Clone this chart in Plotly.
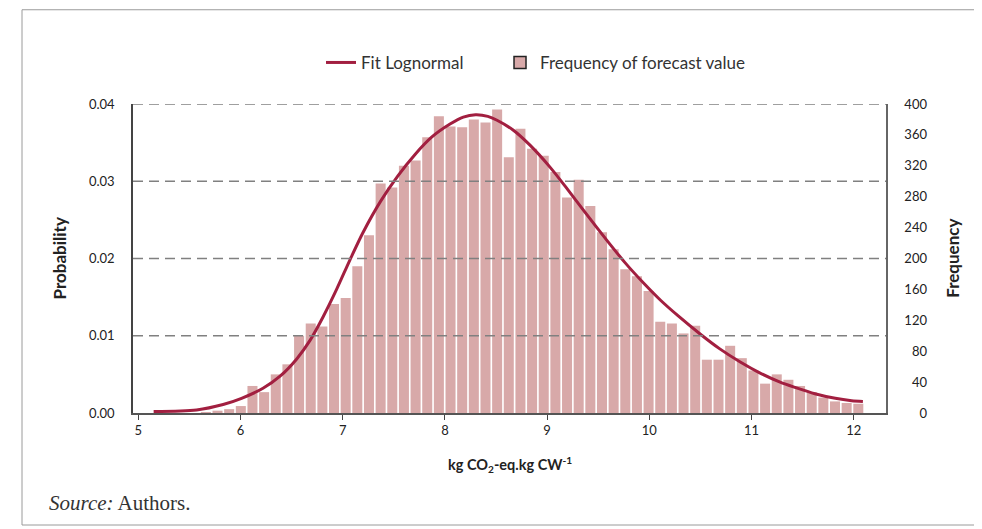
import plotly.graph_objects as go

# ---- data ----
bin_centers = [5.661, 5.775, 5.889, 6.003, 6.117, 6.231, 6.345, 6.459, 6.573, 6.687,
               6.801, 6.915, 7.029, 7.143, 7.257, 7.371, 7.485, 7.599, 7.713, 7.827,
               7.941, 8.055, 8.169, 8.283, 8.397, 8.511, 8.625, 8.739, 8.853, 8.967,
               9.081, 9.195, 9.309, 9.423, 9.537, 9.651, 9.765, 9.879, 9.993, 10.107,
               10.221, 10.335, 10.449, 10.563, 10.677, 10.791, 10.905, 11.019, 11.133, 11.247,
               11.361, 11.475, 11.589, 11.703, 11.817, 11.931, 12.045]
frequency = [1, 3, 5, 9, 35, 27, 50, 63, 100, 116,
             112, 141, 149, 190, 230, 297, 292, 320, 327, 357,
             384, 371, 370, 380, 376, 393, 331, 368, 342, 333,
             312, 279, 302, 268, 234, 212, 186, 177, 158, 118,
             116, 103, 113, 69, 69, 87, 71, 55, 38, 50,
             43, 35, 27, 20, 15, 13, 12]

fit_x = [5.15, 5.57, 5.83, 6.01, 6.22, 6.39, 6.55, 6.68, 6.81, 6.94,
         7.07, 7.20, 7.37, 7.54, 7.71, 7.87, 8.05, 8.18, 8.30, 8.42,
         8.51, 8.67, 8.83, 9.03, 9.18, 9.37, 9.57, 9.76, 9.96, 10.11,
         10.28, 10.50, 10.69, 10.89, 11.08, 11.28, 11.43, 11.62, 11.82, 11.98, 12.09]
fit_prob = [0.0002, 0.0004, 0.0011, 0.0019, 0.0032, 0.0048, 0.0070, 0.0094, 0.0125, 0.0160,
            0.0198, 0.0234, 0.0274, 0.0307, 0.0335, 0.0357, 0.0374, 0.0383, 0.0386, 0.0384,
            0.0379, 0.0366, 0.0347, 0.0318, 0.0293, 0.0260, 0.0226, 0.0195, 0.0166, 0.0146,
            0.0126, 0.0102, 0.0083, 0.0066, 0.0052, 0.0040, 0.0033, 0.0025, 0.0019, 0.0016, 0.0015]

x_ticks = [5, 6, 7, 8, 9, 10, 11, 12]
prob_ticks = [0.00, 0.01, 0.02, 0.03, 0.04]
freq_ticks = [0, 40, 80, 120, 160, 200, 240, 280, 320, 360, 400]

BAR = "#D8A9A9"
LINE = "#A21F40"
FONT = "Lato"

fig = go.Figure()

fig.add_trace(go.Bar(
    x=bin_centers, y=frequency, width=0.098,
    marker=dict(color=BAR, line=dict(width=0)),
    yaxis="y", showlegend=False, name="Frequency of forecast value",
))
fig.add_trace(go.Scatter(
    x=fit_x, y=fit_prob, mode="lines", line=dict(color=LINE, width=3, shape="spline", smoothing=0.8),
    yaxis="y2", name="Fit Lognormal", legend="legend",
))
fig.add_trace(go.Bar(
    x=[None], y=[None], yaxis="y",
    marker=dict(color=BAR, line=dict(color="#222222", width=1.5)),
    name="Frequency of forecast value", legend="legend2",
))

shapes = []
for v in prob_ticks[1:]:
    shapes.append(dict(type="line", xref="paper", x0=0, x1=1, yref="y2", y0=v, y1=v,
                       line=dict(color="#808080", width=1.6, dash="10px,6px"), layer="above"))
# outer frame
shapes.append(dict(type="rect", xref="paper", yref="paper", x0=-0.1474, x1=1.16,
                   y0=-0.3625, y1=1.305, line=dict(color="#9a9a9a", width=1), layer="below"))

legend_common = dict(orientation="h", y=1.133, yanchor="middle", xanchor="left",
                     font=dict(size=17, color="#333333"), bgcolor="rgba(0,0,0,0)", itemwidth=30)

fig.update_layout(
    width=974, height=521, autosize=False,
    margin=dict(l=125, r=96, t=96, b=116),
    paper_bgcolor="white", plot_bgcolor="white",
    font=dict(family=FONT, size=13, color="#333333"),
    barmode="overlay",
    shapes=shapes,
    legend=dict(x=0.2497, **legend_common),
    legend2=dict(x=0.4874, **legend_common),
    xaxis=dict(range=[4.948, 12.316], tickvals=x_ticks, ticks="outside", ticklen=5,
               tickcolor="#444444", showline=True, linecolor="#555555", linewidth=1.5,
               showgrid=False, zeroline=False, tickfont=dict(size=13, color="#222222")),
    yaxis=dict(range=[0, 400], side="right", tickvals=freq_ticks,
               ticktext=[f"{v:>3}".replace(" ", "\u2007") for v in freq_ticks],
               showgrid=False, zeroline=False, showline=True, linecolor="#666666",
               linewidth=1.5, ticks="", ticklabelstandoff=14,
               tickfont=dict(size=13, color="#222222")),
    yaxis2=dict(range=[0, 0.04], side="left", overlaying="y", tickvals=prob_ticks,
                tickformat=".2f", showgrid=False, zeroline=False, showline=True,
                linecolor="#444444", linewidth=1.5, ticks="", ticklabelstandoff=14,
                tickfont=dict(size=13, color="#222222")),
    annotations=[
        dict(text="<b>Probability</b>", xref="paper", yref="paper", x=-0.097, y=0.5,
             textangle=-90, showarrow=False, font=dict(size=17, color="#222222"),
             xanchor="center", yanchor="middle"),
        dict(text="<b>Frequency</b>", xref="paper", yref="paper", x=1.088, y=0.5,
             textangle=-90, showarrow=False, font=dict(size=17, color="#222222"),
             xanchor="center", yanchor="middle"),
        dict(text="<b>kg CO<sub>2</sub>-eq.kg CW<sup>-1</sup></b>", xref="paper", yref="paper",
             x=0.5, y=-0.168, showarrow=False, font=dict(size=14.5, color="#222222"),
             xanchor="center", yanchor="middle"),
        dict(text="<i>Source:</i> Authors.", xref="paper", yref="paper", x=-0.1142, y=-0.291,
             showarrow=False, font=dict(family="Liberation Serif", size=21, color="#333333"),
             xanchor="left", yanchor="middle"),
    ],
)

fig.write_html("out.html")
